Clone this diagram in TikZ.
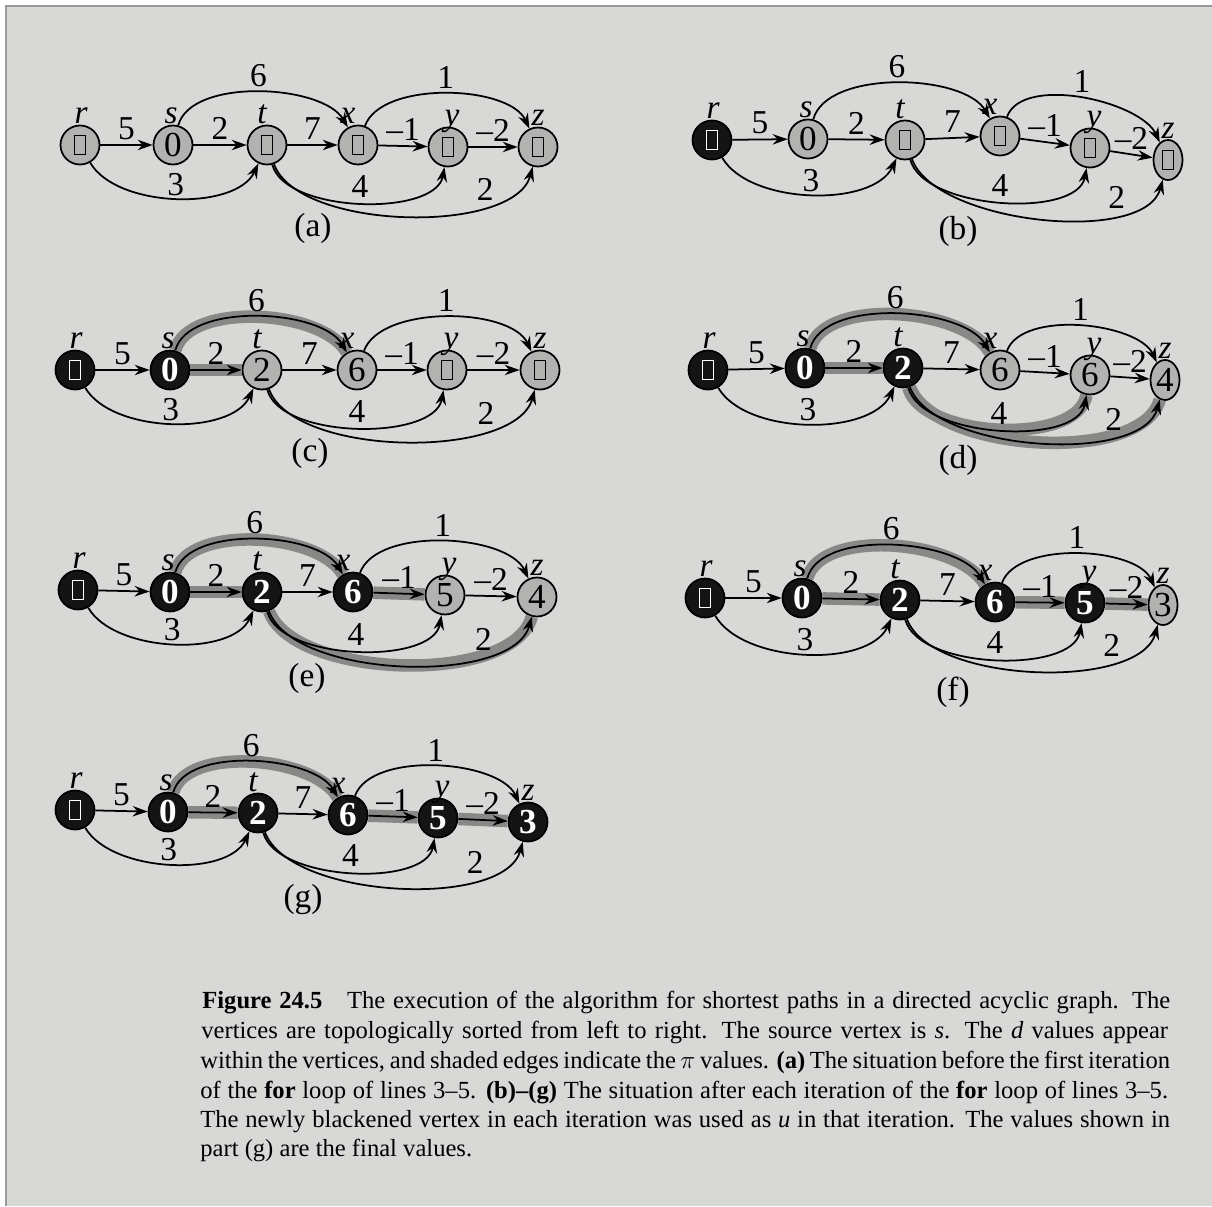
\documentclass[tikz,border=0pt]{standalone}
\usepackage{fontspec}
\setmainfont{Liberation Serif}
\usepackage{tikz}
\usetikzlibrary{arrows.meta,shapes.geometric}

\definecolor{page}{RGB}{216,216,214}
\definecolor{vtxgray}{RGB}{178,178,176}
\definecolor{bandgray}{RGB}{136,136,134}

\newcommand{\infbox}{{\setlength{\fboxsep}{0pt}\setlength{\fboxrule}{0.8pt}\fbox{\rule{0pt}{0.36cm}\hspace{0.19cm}}}}

\newcommand{\dagedges}[1]{%
    \draw[arc] (#1r) -- node[wt, above]{5} (#1s);
    \draw[arc] (#1s) -- node[wt, above]{2} (#1t);
    \draw[arc] (#1t) -- node[wt, above]{7} (#1x);
    \draw[arc] (#1x) -- node[wt, above]{\textendash1} (#1y);
    \draw[arc] (#1y) -- node[wt, above]{\textendash2} (#1z);
    \draw[arc] (#1s) to[sx] node[wt, above]{6} (#1x);
    \draw[arc] (#1x) to[xz] node[wt, above]{1} (#1z);
    \draw[arc] (#1r) to[rt] node[wt, above, inner sep=1pt]{3} (#1t);
    \draw[arc] (#1t) to[ty] node[wt, above]{4} (#1y);
    \draw[arc] (#1t) to[tz] node[wt, above, pos=0.74]{2} (#1z);
    \node[vlbl] at ([xshift=0.02cm, yshift=0.44cm]#1r) {r};
    \node[vlbl] at ([xshift=-0.04cm, yshift=0.44cm]#1s) {s};
    \node[vlbl] at ([xshift=-0.1cm, yshift=0.44cm]#1t) {t};
    \node[vlbl] at ([xshift=-0.2cm, yshift=0.44cm]#1x) {x};
    \node[vlbl] at ([xshift=0.08cm, yshift=0.44cm]#1y) {y};
    \node[vlbl] at ([yshift=0.44cm]#1z) {z};
}

\begin{document}
\begin{tikzpicture}[x=0.02cm, y=0.02cm,
    vtx/.style={circle, draw, line width=1pt, fill=vtxgray, minimum size=0.78cm, inner sep=0pt, font=\fontsize{20}{20}\selectfont},
    done/.style={vtx, fill=black!92, text=white, font=\fontsize{20}{20}\selectfont\bfseries},
    narrow/.style={ellipse, minimum width=0.58cm, minimum height=0.8cm},
    arc/.style={-{Stealth[length=3mm, width=2.1mm, inset=1mm]}, line width=1pt},
    band/.style={draw=bandgray, line width=0.25cm},
    wt/.style={font=\fontsize{19}{19}\selectfont, inner sep=2.5pt},
    vlbl/.style={anchor=base, inner sep=0pt, font=\fontsize{19}{19}\selectfont\itshape},
    sub/.style={font=\fontsize{19}{19}\selectfont},
    capline/.style={anchor=base west, inner sep=0pt, font=\fontsize{14}{16}\selectfont},
    sx/.style={out=75, in=120, looseness=0.75},
    xz/.style={out=70, in=115, looseness=0.75},
    rt/.style={out=-60, in=-115, looseness=0.8},
    ty/.style={out=-75, in=-100, looseness=0.75},
    tz/.style={out=-70, in=-105, looseness=0.7}]
    % Page
    \useasboundingbox (0,0) rectangle (1212,-1206);
    \fill[white] (0,0) rectangle (1212,-1206);
    \fill[page] (6,-6) rectangle (1212,-1206);
    \draw[gray!80, line width=1.2pt] (6,-1206) -- (6,-6) -- (1212,-6);
    % Graph (a)
    \node[vtx] (ar) at (80,-145) {\infbox};
    \node[vtx] (as) at (173,-145) {0};
    \node[vtx] (at) at (267,-145) {\infbox};
    \node[vtx] (ax) at (358,-145) {\infbox};
    \node[vtx] (ay) at (448,-147) {\infbox};
    \node[vtx] (az) at (538,-147) {\infbox};
    \dagedges{a}
    \node[sub] (alab) at (313,-228) {(a)};
    % Graph (b)
    \node[done] (br) at (712,-140) {\infbox};
    \node[vtx] (bs) at (808,-139) {0};
    \node[vtx] (bt) at (905,-140) {\infbox};
    \node[vtx] (bx) at (1000,-136) {\infbox};
    \node[vtx] (by) at (1090,-148) {\infbox};
    \node[vtx, narrow] (bz) at (1168,-160) {\infbox};
    \dagedges{b}
    \node[sub] (blab) at (958,-231) {(b)};
    % Graph (c)
    \node[done] (cr) at (75,-370) {\infbox};
    \node[done] (cs) at (170,-370) {0};
    \node[vtx] (ct) at (262,-370) {2};
    \node[vtx] (cx) at (357,-370) {6};
    \node[vtx] (cy) at (447,-370) {\infbox};
    \node[vtx] (cz) at (540,-370) {\infbox};
    \draw[band] (cs) -- (ct);
    \draw[band] (cs) to[sx] (cx);
    \dagedges{c}
    \node[sub] (clab) at (310,-453) {(c)};
    % Graph (d)
    \node[done] (dr) at (708,-370) {\infbox};
    \node[done] (ds) at (805,-368) {0};
    \node[done] (dt) at (903,-368) {2};
    \node[vtx] (dx) at (1000,-370) {6};
    \node[vtx] (dy) at (1090,-375) {6};
    \node[vtx, narrow] (dz) at (1165,-380) {4};
    \draw[band] (ds) -- (dt);
    \draw[band] (ds) to[sx] (dx);
    \draw[band] (dt) to[ty] (dy);
    \draw[band] (dt) to[tz] (dz);
    \dagedges{d}
    \node[sub] (dlab) at (958,-460) {(d)};
    % Graph (e)
    \node[done] (er) at (78,-590) {\infbox};
    \node[done] (es) at (170,-592) {0};
    \node[done] (et) at (262,-592) {2};
    \node[done] (ex) at (353,-592) {6};
    \node[vtx] (ey) at (445,-595) {5};
    \node[vtx] (ez) at (537,-597) {4};
    \draw[band] (es) -- (et);
    \draw[band] (es) to[sx] (ex);
    \draw[band] (ex) -- (ey);
    \draw[band] (et) to[tz] (ez);
    \dagedges{e}
    \node[sub] (elab) at (307,-678) {(e)};
    % Graph (f)
    \node[done] (fr) at (705,-598) {\infbox};
    \node[done] (fs) at (802,-598) {0};
    \node[done] (ft) at (900,-600) {2};
    \node[done] (fx) at (995,-602) {6};
    \node[done] (fy) at (1085,-603) {5};
    \node[vtx, narrow] (fz) at (1163,-605) {3};
    \draw[band] (fs) -- (ft);
    \draw[band] (fs) to[sx] (fx);
    \draw[band] (fx) -- (fy);
    \draw[band] (fy) -- (fz);
    \dagedges{f}
    \node[sub] (flab) at (953,-692) {(f)};
    % Graph (g)
    \node[done] (gr) at (75,-810) {\infbox};
    \node[done] (gs) at (168,-812) {0};
    \node[done] (gt) at (258,-813) {2};
    \node[done] (gx) at (348,-815) {6};
    \node[done] (gy) at (438,-818) {5};
    \node[done] (gz) at (528,-822) {3};
    \draw[band] (gs) -- (gt);
    \draw[band] (gs) to[sx] (gx);
    \draw[band] (gx) -- (gy);
    \draw[band] (gy) -- (gz);
    \dagedges{g}
    \node[sub] (glab) at (303,-900) {(g)};
    % Caption
    \node[capline] (cap1) at (202,-1008) {\makebox[19.36cm][s]{\textbf{Figure 24.5}\quad The execution of the algorithm for shortest paths in a directed acyclic graph. The}};
    \node[capline] (cap2) at (201,-1038) {\makebox[19.34cm][s]{vertices are topologically sorted from left to right. The source vertex is \textit{s}. The \textit{d} values appear}};
    \node[capline] (cap3) at (200,-1068) {\makebox[19.4cm][s]{within the vertices, and shaded edges indicate the $\pi$ values. \textbf{(a)} The situation before the first iteration}};
    \node[capline] (cap4) at (200,-1098) {\makebox[19.36cm][s]{of the \textbf{for} loop of lines 3\textendash5. \textbf{(b)\textendash(g)} The situation after each iteration of the \textbf{for} loop of lines 3\textendash5.}};
    \node[capline] (cap5) at (200,-1127) {\makebox[19.4cm][s]{The newly blackened vertex in each iteration was used as \textit{u} in that iteration. The values shown in}};
    \node[capline] (cap6) at (200,-1156) {part (g) are the final values.};
\end{tikzpicture}
\end{document}
